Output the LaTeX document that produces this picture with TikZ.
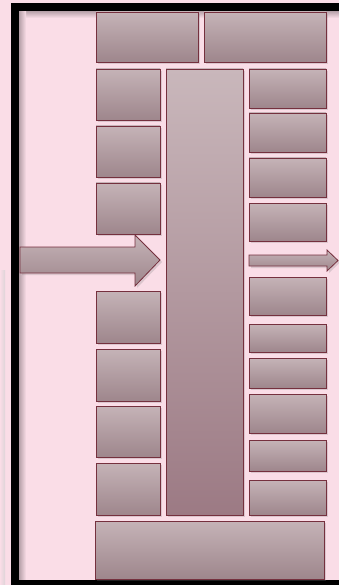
\documentclass[tikz,border=0pt]{standalone}
\usepackage{tikz}
\usetikzlibrary{shadows}
\definecolor{bgpink}{HTML}{FADDE7}
\definecolor{boxtop}{HTML}{C5B3B7}
\definecolor{boxbot}{HTML}{9E868C}
\definecolor{boxline}{HTML}{75303E}
\definecolor{coltop}{HTML}{C9B7BB}
\definecolor{colbot}{HTML}{9C7A84}
\definecolor{frameshade}{HTML}{B5A0A8}
\tikzset{blockbox/.style={draw=boxline,line width=.8pt,top color=boxtop,bottom color=boxbot,inner sep=0pt,drop shadow={shadow xshift=2pt,shadow yshift=-2pt,opacity=.25}},pillar/.style={blockbox,top color=coltop,bottom color=colbot},blockarrow/.style={draw=boxline,line width=.8pt,top color=boxtop,bottom color=boxbot,drop shadow={shadow xshift=2pt,shadow yshift=-2pt,opacity=.25}},frame bar/.style={fill=black}}

\begin{document}
\begin{tikzpicture}[x=1pt,y=-1pt]
 \useasboundingbox (0,0) rectangle (339,585);
 \fill[bgpink] (0,0) rectangle (339,585);

 % frame round the picture, with its soft inner edge
 \shade[left color=bgpink,right color=frameshade!45] (0,270) rectangle (5,585);
 \shade[top color=frameshade,bottom color=bgpink] (19,11) rectangle (339,18);
 \shade[left color=frameshade,right color=bgpink] (19,11) rectangle (26,580);
 \fill[frame bar] (11,3) rectangle (339,11);
 \fill[frame bar] (11,3) rectangle (19,585);
 \fill[frame bar] (11,580) rectangle (339,585);

 \node[blockbox,minimum width=102,minimum height=50] (top-a) at (147,37) {};
 \node[blockbox,minimum width=122,minimum height=50] (top-b) at (265,37) {};

 \node[blockbox,minimum width=64,minimum height=51] (left-1) at (128,94.5) {};
 \node[blockbox,minimum width=64,minimum height=51] (left-2) at (128,151.5) {};
 \node[blockbox,minimum width=64,minimum height=51] (left-3) at (128,208.5) {};
 \node[blockbox,minimum width=64,minimum height=52] (left-4) at (128,317) {};
 \node[blockbox,minimum width=64,minimum height=52] (left-5) at (128,375) {};
 \node[blockbox,minimum width=64,minimum height=51] (left-6) at (128,431.5) {};
 \node[blockbox,minimum width=64,minimum height=52] (left-7) at (128,489) {};

 \node[pillar,minimum width=77,minimum height=446] (core) at (204.5,292) {};

 \node[blockbox,minimum width=77,minimum height=39] (right-1) at (287.5,88.5) {};
 \node[blockbox,minimum width=77,minimum height=39] (right-2) at (287.5,132.5) {};
 \node[blockbox,minimum width=77,minimum height=39] (right-3) at (287.5,177.5) {};
 \node[blockbox,minimum width=77,minimum height=38] (right-4) at (287.5,222) {};
 \node[blockbox,minimum width=77,minimum height=38] (right-5) at (287.5,296) {};
 \node[blockbox,minimum width=77,minimum height=28] (right-6) at (287.5,338) {};
 \node[blockbox,minimum width=77,minimum height=30] (right-7) at (287.5,373) {};
 \node[blockbox,minimum width=77,minimum height=39] (right-8) at (287.5,413.5) {};
 \node[blockbox,minimum width=77,minimum height=31] (right-9) at (287.5,455.5) {};
 \node[blockbox,minimum width=77,minimum height=35] (right-10) at (287.5,497.5) {};

 \node[blockbox,minimum width=229,minimum height=58] (base) at (209.5,550) {};

 % block arrows in and out of the core
 \draw[blockarrow] (20,247) -- (135,247) -- (135,235) -- (160,260) -- (135,286) -- (135,273) -- (20,273) -- cycle;
 \draw[blockarrow] (249,255) -- (327,255) -- (327,250) -- (338,260.5) -- (327,271) -- (327,266) -- (249,266) -- cycle;
\end{tikzpicture}
\end{document}
